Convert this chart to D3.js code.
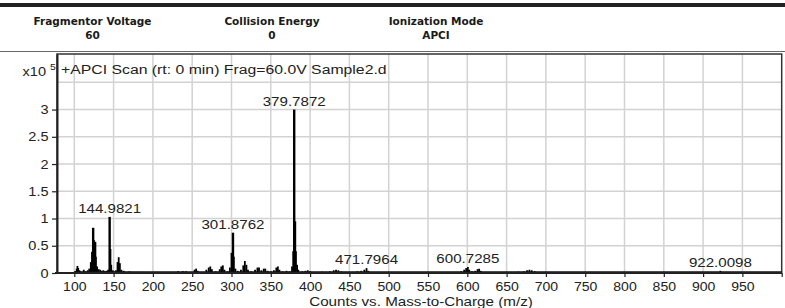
<!DOCTYPE html>
<html>
<head>
<meta charset="utf-8">
<script src="https://cdn.jsdelivr.net/npm/d3@7"></script>
<style>
  body { margin: 0; background: #fff; }
  svg { display: block; }
</style>
</head>
<body>
<div id="chart"></div>
<script>
// header info
var headerNames = ["Fragmentor Voltage", "Collision Energy", "Ionization Mode"];
var headerValues = ["60", "0", "APCI"];

var scanTitle = "+APCI Scan (rt: 0 min) Frag=60.0V Sample2.d";
var xTitle = "Counts vs. Mass-to-Charge (m/z)";

// spectrum sticks: m/z and intensity (x10^5)
var mz = [101, 103, 104, 105, 106.5, 108, 110, 112, 114, 117, 119, 121, 122.5, 124, 125, 126.5, 127.5, 129, 131, 133,
  135, 137, 139, 141, 143, 144.9821, 146, 147, 149, 151, 153, 155, 156.5, 158, 160, 163, 166, 170, 175, 180,
  185, 190, 198, 205, 215, 225, 232, 238, 242, 246, 253, 255, 257, 262, 268, 271, 273, 275, 280, 285,
  287, 289, 291, 295, 298, 300, 301.8762, 303, 305, 308, 312, 315, 317, 319, 321, 325, 330, 333, 335, 338,
  341, 343, 346, 350, 354, 357, 359, 361, 365, 370, 374, 377, 378.5, 379.7872, 380.8, 382, 383.5, 385, 390, 394,
  397, 400, 405, 410, 415, 420, 425, 430, 433, 436, 440, 445, 450, 455, 460, 465, 469, 471.7964, 474, 480,
  490, 500, 510, 520, 530, 545, 560, 575, 585, 592, 596, 598.5, 600.7285, 602.5, 606, 610, 613, 615, 617, 625,
  635, 645, 655, 665, 672, 676, 679, 682, 686, 695, 705, 720, 740, 760, 780, 800, 830, 860, 890, 922.0098, 940, 970];
var counts = [0.03, 0.08, 0.13, 0.09, 0.05, 0.03, 0.02, 0.06, 0.03, 0.05, 0.08, 0.2, 0.39, 0.83, 0.6, 0.57, 0.3, 0.12, 0.07, 0.06,
  0.04, 0.05, 0.03, 0.04, 0.06, 1.03, 0.44, 0.15, 0.05, 0.03, 0.05, 0.2, 0.29, 0.18, 0.06, 0.04, 0.02, 0.03, 0.02, 0.02,
  0.02, 0.015, 0.015, 0.01, 0.015, 0.02, 0.03, 0.035, 0.03, 0.02, 0.06, 0.08, 0.04, 0.02, 0.06, 0.1, 0.12, 0.07, 0.03, 0.07,
  0.12, 0.14, 0.06, 0.03, 0.1, 0.37, 0.74, 0.3, 0.08, 0.04, 0.06, 0.14, 0.22, 0.15, 0.06, 0.03, 0.06, 0.1, 0.1, 0.05,
  0.08, 0.08, 0.04, 0.03, 0.05, 0.1, 0.12, 0.06, 0.03, 0.04, 0.03, 0.12, 0.4, 3.0, 0.95, 0.4, 0.15, 0.06, 0.03, 0.04,
  0.05, 0.03, 0.02, 0.02, 0.025, 0.02, 0.03, 0.05, 0.06, 0.05, 0.03, 0.02, 0.015, 0.02, 0.03, 0.04, 0.06, 0.09, 0.04, 0.02,
  0.015, 0.01, 0.01, 0.01, 0.01, 0.01, 0.015, 0.015, 0.02, 0.03, 0.06, 0.09, 0.11, 0.06, 0.03, 0.04, 0.07, 0.08, 0.04, 0.02,
  0.015, 0.015, 0.02, 0.025, 0.03, 0.05, 0.06, 0.05, 0.03, 0.02, 0.015, 0.01, 0.01, 0.008, 0.008, 0.008, 0.006, 0.006, 0.006, 0.04, 0.005, 0.005];

// labelled peaks
var peakLabels = [144.9821, 301.8762, 379.7872, 471.7964, 600.7285, 922.0098];

var xTicks = d3.range(100, 1001, 50);
var yTicks = [0, 0.5, 1, 1.5, 2, 2.5, 3];
var yGrid = [0.5, 1, 1.5, 2, 2.5, 3, 3.5];

var w = 785;
var h = 308;

var x = d3.scaleLinear().domain([78, 1000]).range([57, 781.7]);
var y = d3.scaleLinear().domain([0, 4.02]).range([273, 54]);

var svg = d3.select("#chart")
  .append("svg")
  .attr("width", w)
  .attr("height", h)
  .style("font-family", "'Liberation Sans', Arial, sans-serif");

// text is drawn a bit wider than Arial in the original
function putText(str, tx, ty, anchor, size, k) {
  return svg.append("text")
    .attr("transform", "translate(" + tx + "," + ty + ") scale(" + k + ",1)")
    .attr("text-anchor", anchor)
    .style("font-size", size + "px")
    .style("fill", "#222")
    .text(str);
}

// header band
svg.append("line")
  .attr("x1", 0).attr("x2", w).attr("y1", 5).attr("y2", 5)
  .style("stroke", "#222").style("stroke-width", 4);
svg.append("line")
  .attr("x1", 0).attr("x2", w).attr("y1", 51.5).attr("y2", 51.5)
  .style("stroke", "#666").style("stroke-width", 1.2);

var headerX = [92.5, 272, 436];
headerNames.forEach(function(name, i) {
  svg.append("text")
    .attr("x", headerX[i]).attr("y", 25)
    .attr("text-anchor", "middle")
    .style("font-family", "'DejaVu Sans', Verdana, sans-serif")
    .style("font-weight", "bold")
    .style("font-size", "10.5px")
    .style("fill", "#1a1a1a")
    .text(name);
  svg.append("text")
    .attr("x", headerX[i]).attr("y", 39)
    .attr("text-anchor", "middle")
    .style("font-family", "'DejaVu Sans', Verdana, sans-serif")
    .style("font-weight", "bold")
    .style("font-size", "10.5px")
    .style("fill", "#1a1a1a")
    .text(headerValues[i]);
});

// grid
svg.append("g")
  .selectAll("line.v")
  .data(xTicks.slice(0, -1))
  .enter()
  .append("line")
  .attr("x1", function(d) { return x(d); })
  .attr("x2", function(d) { return x(d); })
  .attr("y1", y.range()[1])
  .attr("y2", y(0))
  .style("stroke", "#d2d2d2")
  .style("stroke-width", 1.5);
svg.append("g")
  .selectAll("line.h")
  .data(yGrid)
  .enter()
  .append("line")
  .attr("x1", x.range()[0])
  .attr("x2", x.range()[1])
  .attr("y1", function(d) { return y(d); })
  .attr("y2", function(d) { return y(d); })
  .style("stroke", "#d2d2d2")
  .style("stroke-width", 1.5);

// plot frame
svg.append("rect")
  .attr("x", x.range()[0]).attr("y", y.range()[1])
  .attr("width", x.range()[1] - x.range()[0])
  .attr("height", y(0) - y.range()[1])
  .style("fill", "none")
  .style("stroke", "#333")
  .style("stroke-width", 1.5);

// spectrum sticks
svg.append("g")
  .selectAll("line")
  .data(mz)
  .enter()
  .append("line")
  .attr("x1", function(d) { return x(d); })
  .attr("x2", function(d) { return x(d); })
  .attr("y1", y(0))
  .attr("y2", function(d, i) { return y(counts[i]); })
  .style("stroke", "#000")
  .style("stroke-width", function(d, i) { return counts[i] > 0.5 ? 2.4 : 1.8; });

// baseline noise
svg.append("line")
  .attr("x1", x(100)).attr("x2", x(1000))
  .attr("y1", y(0) - 1).attr("y2", y(0) - 1)
  .style("stroke", "#111").style("stroke-width", 1.5);

// axes
var xAxis = svg.append("g")
  .attr("transform", "translate(0," + y(0) + ")")
  .call(d3.axisBottom(x)
    .tickValues(xTicks)
    .tickSize(4)
    .tickSizeOuter(0)
    .tickPadding(5)
    .tickFormat(function(d) { return d === 1000 ? "" : d; }));
xAxis.select(".domain").attr("d", "M55,0H" + x.range()[1]).style("stroke", "#222").style("stroke-width", 1.8);
xAxis.selectAll(".tick line").style("stroke", "#222").style("stroke-width", 1.2);
xAxis.selectAll(".tick text")
  .attr("transform", "scale(1.08,1)")
  .style("font-family", "'Liberation Sans', Arial, sans-serif")
  .style("font-size", "13px")
  .style("fill", "#222");

var yAxis = svg.append("g")
  .attr("transform", "translate(" + x.range()[0] + ",0)")
  .call(d3.axisLeft(y)
    .tickValues(yTicks)
    .tickSize(5)
    .tickSizeOuter(0)
    .tickPadding(3)
    .tickFormat(d3.format("~g")));
yAxis.select(".domain").style("stroke", "#222").style("stroke-width", 2);
yAxis.selectAll(".tick line").style("stroke", "#222").style("stroke-width", 1.2);
yAxis.selectAll(".tick text")
  .attr("x", -7.5)
  .attr("transform", "scale(1.12,1)")
  .style("font-family", "'Liberation Sans', Arial, sans-serif")
  .style("font-size", "13px")
  .style("fill", "#222");

// peak labels
peakLabels.forEach(function(p) {
  var v = counts[mz.indexOf(p)];
  putText(p.toFixed(4), x(p), y(v) - 4, "middle", 13.5, 1.12);
});

// titles
putText(scanTitle, 61, 74, "start", 13.5, 1.17);
putText("x10", 46, 76, "end", 13, 1.12);
putText("5", 50, 70, "start", 9.5, 1.1);
putText(xTitle, 421, 306, "middle", 13, 1.17);
</script>
</body>
</html>
